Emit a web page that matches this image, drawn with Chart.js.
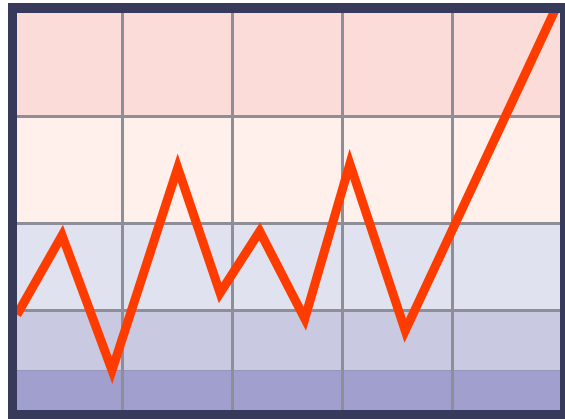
<!DOCTYPE html>
<html>
<head>
<meta charset="utf-8">
<script src="https://cdn.jsdelivr.net/npm/chart.js@4/dist/chart.umd.min.js"></script>
<style>
  html, body { margin: 0; padding: 0; background: #ffffff; }
  #wrap { width: 565px; height: 419px; }
</style>
</head>
<body>
<div id="wrap"><canvas id="trendChart" width="565" height="419"></canvas></div>
<script>
// line points (x in column units, y in band units 0-100)
const xValues = [0, 0.83, 1.75, 2.96, 3.74, 4.47, 5.3, 6.13, 7.15, 9.9];
const yValues = [24, 44, 10, 61, 29.5, 45, 23, 62, 20, 100.5];

// horizontal band edges and fills (bottom to top)
const bandEdges = [0, 10, 25, 47, 74, 100];
const bandColors = ['#a09fce', '#c9cae2', '#e1e2f0', '#fff0ec', '#fcdcd8'];

// vertical grid positions
const columnTicks = [0, 1.94, 3.96, 6, 8.02, 10];

const bandPlugin = {
    id: 'bands',
    beforeDraw(chart) {
        const ctx = chart.ctx;
        const area = chart.chartArea;
        const y = chart.scales.y;
        ctx.save();
        // white margin on the left and top, then the dark frame
        ctx.fillStyle = '#ffffff';
        ctx.fillRect(0, 0, chart.width, chart.height);
        ctx.fillStyle = '#373a5a';
        ctx.fillRect(8, 3, chart.width - 8, chart.height - 3);
        for (let i = 0; i < bandColors.length; i++) {
            const top = y.getPixelForValue(bandEdges[i + 1]);
            const bottom = y.getPixelForValue(bandEdges[i]);
            ctx.fillStyle = bandColors[i];
            ctx.fillRect(area.left, top, area.right - area.left, bottom - top);
        }
        ctx.restore();
    }
};

const points = xValues.map((x, i) => ({ x: x, y: yValues[i] }));

const edgeHidden = (ctx) => {
    const v = ctx.tick ? ctx.tick.value : null;
    return (v === 0 || v === 10 || v === 100) ? 'rgba(0,0,0,0)' : '#8e8e99';
};

new Chart(document.getElementById('trendChart'), {
    type: 'line',
    data: {
        datasets: [{
            data: points,
            borderColor: '#ff3c00',
            borderWidth: 9,
            borderJoinStyle: 'miter',
            pointRadius: 0,
            tension: 0,
            fill: false
        }]
    },
    options: {
        responsive: false,
        animation: false,
        layout: { padding: { left: 17, top: 13, right: 5, bottom: 9 } },
        plugins: { legend: { display: false }, tooltip: { enabled: false } },
        scales: {
            x: {
                type: 'linear',
                min: 0,
                max: 10,
                afterBuildTicks: (scale) => { scale.ticks = columnTicks.map(v => ({ value: v })); },
                ticks: { display: false },
                border: { display: false },
                grid: { color: edgeHidden, lineWidth: 3, drawTicks: false }
            },
            y: {
                min: 0,
                max: 100,
                afterBuildTicks: (scale) => { scale.ticks = bandEdges.map(v => ({ value: v })); },
                ticks: { display: false },
                border: { display: false },
                grid: { color: edgeHidden, lineWidth: 3, drawTicks: false }
            }
        }
    },
    plugins: [bandPlugin]
});
</script>
</body>
</html>
